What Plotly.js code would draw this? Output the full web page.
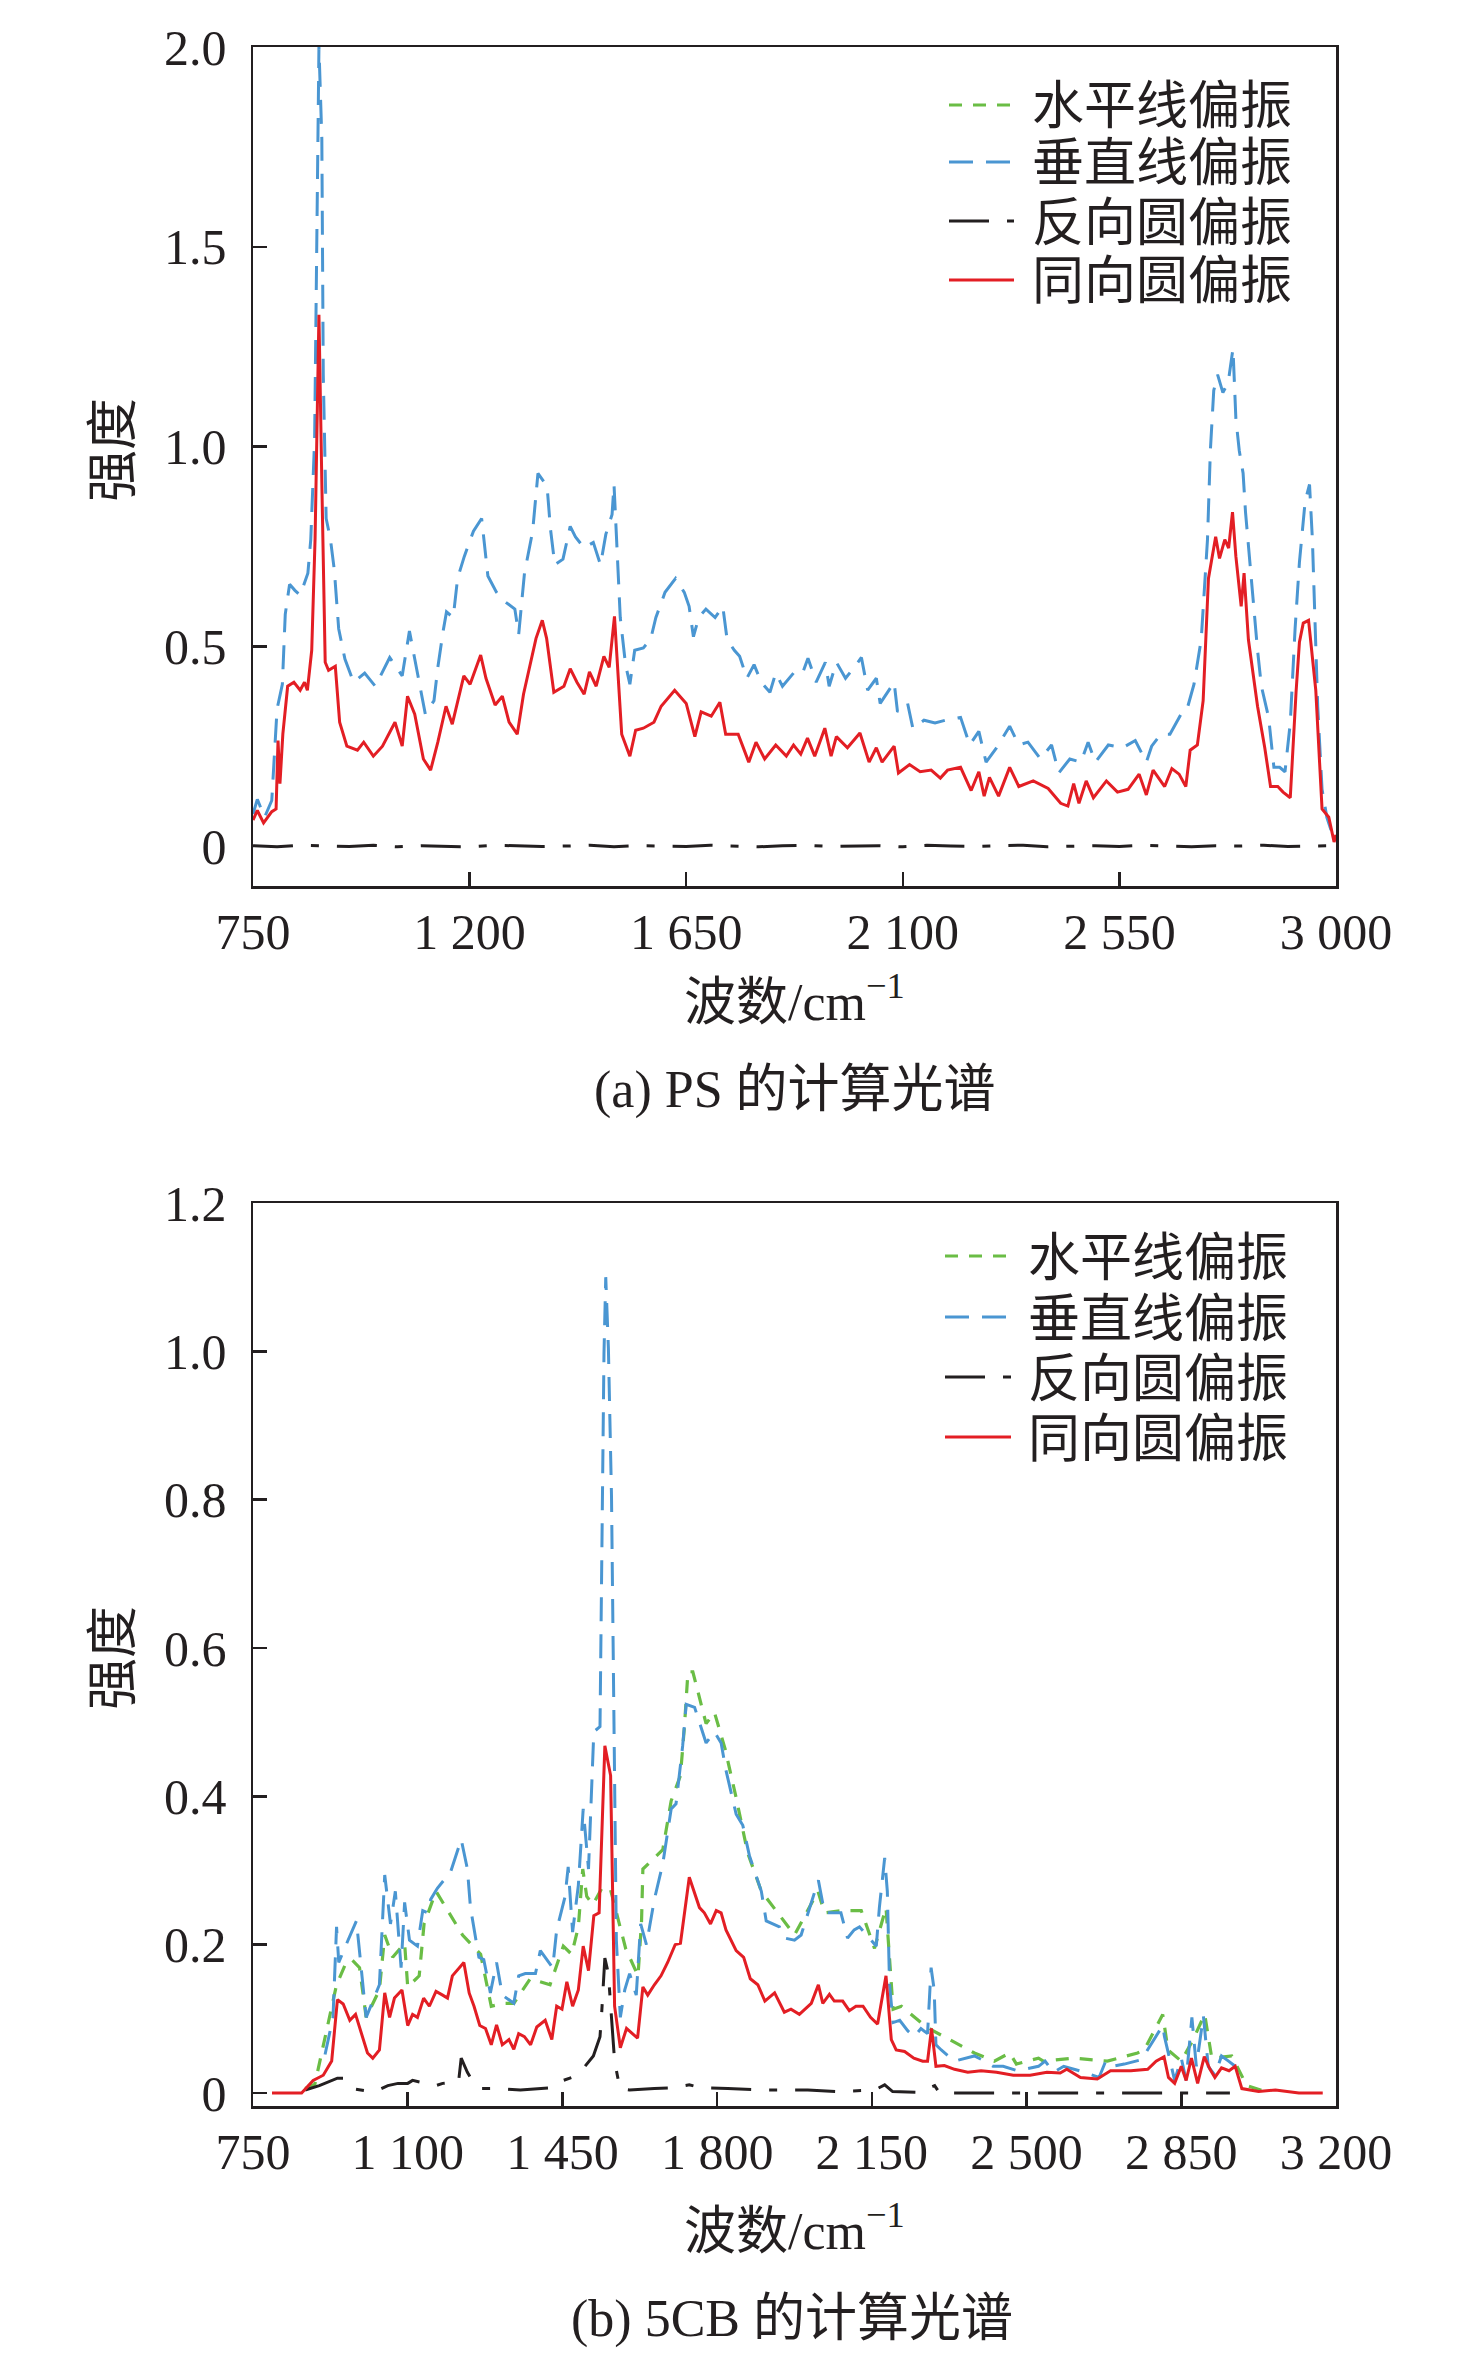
<!DOCTYPE html>
<html>
<head>
<meta charset="utf-8">
<script src="https://cdn.plot.ly/plotly-3.0.1.min.js"></script>
<style>
  html, body { margin: 0; padding: 0; background: #fff; }
  #chart { width: 1476px; height: 2362px; }
</style>
</head>
<body>
<div id="chart"></div>
<script>
// ---- (a) PS ----
var psXTicks = [750, 1200, 1650, 2100, 2550, 3000];
var psXText = ['750', '1 200', '1 650', '2 100', '2 550', '3 000'];
var psYTicks = [0, 0.5, 1.0, 1.5, 2.0];
var psYText = ['0', '0.5', '1.0', '1.5', '2.0'];

// the horizontal-polarisation curve of (a) is not visible in the figure, only its legend entry

var psVerX = [750,759,774,789,800,811,817,826,837,848,864,870,878,882,887,893,896,902,911,919,928,941,959,982,1004,1034,1060,1075,1093,1108,1126,1134,1145,1152,1166,1175,1189,1208,1225,1238,1256,1271,1294,1302,1314,1331,1342,1361,1368,1377,1394,1409,1420,1438,1457,1472,1483,1496,1500,1508,1513,1524,1533,1543,1561,1576,1587,1606,1628,1646,1656,1665,1676,1691,1710,1726,1735,1750,1761,1776,1791,1806,1824,1836,1850,1873,1891,1903,1920,1939,1947,1962,1981,1999,2014,2027,2045,2053,2082,2089,2110,2121,2144,2167,2189,2220,2239,2258,2273,2295,2322,2341,2360,2386,2409,2424,2447,2470,2485,2500,2527,2557,2583,2606,2617,2636,2655,2678,2689,2705,2720,2733,2739,2746,2754,2765,2776,2786,2792,2799,2807,2812,2818,2826,2837,2845,2860,2871,2883,2894,2905,2915,2924,2936,2945,2951,2956,2962,2971,2981,2996];
var psVerY = [0.08,0.117,0.072,0.114,0.343,0.405,0.58,0.655,0.64,0.628,0.683,0.767,1.017,1.46,2.0,1.77,1.18,0.82,0.767,0.69,0.544,0.468,0.41,0.433,0.40,0.472,0.426,0.538,0.42,0.33,0.364,0.447,0.538,0.586,0.572,0.67,0.725,0.788,0.82,0.676,0.635,0.614,0.593,0.53,0.683,0.788,0.933,0.90,0.794,0.704,0.718,0.80,0.774,0.746,0.76,0.704,0.78,0.83,0.905,0.71,0.572,0.454,0.405,0.49,0.496,0.517,0.572,0.635,0.67,0.635,0.60,0.524,0.572,0.593,0.572,0.60,0.517,0.49,0.475,0.42,0.454,0.41,0.385,0.433,0.40,0.433,0.43,0.47,0.41,0.46,0.40,0.46,0.42,0.447,0.472,0.39,0.42,0.357,0.41,0.336,0.357,0.294,0.315,0.308,0.315,0.322,0.253,0.287,0.21,0.246,0.30,0.253,0.26,0.218,0.253,0.183,0.218,0.21,0.26,0.21,0.253,0.246,0.264,0.21,0.25,0.28,0.28,0.33,0.336,0.405,0.517,0.767,0.99,1.14,1.18,1.135,1.16,1.245,1.07,0.99,0.933,0.836,0.75,0.628,0.49,0.40,0.322,0.197,0.197,0.186,0.308,0.544,0.71,0.864,0.905,0.767,0.558,0.35,0.142,0.072,0.017];

var psRevX = [750,800,850,900,950,1000,1050,1100,1150,1200,1250,1300,1350,1400,1450,1500,1550,1600,1650,1700,1750,1800,1850,1900,1950,2000,2050,2100,2150,2200,2250,2300,2350,2400,2450,2500,2550,2600,2650,2700,2750,2800,2850,2900,2950,3000];
var psRevY = [0.001,-0.002,0.002,0.000,-0.001,0.002,-0.002,0.001,0.000,-0.002,0.002,0.001,-0.001,0.000,0.002,-0.002,0.001,0.000,-0.001,0.002,0.000,-0.002,0.001,0.002,-0.001,0.000,0.001,-0.002,0.002,0.000,-0.001,0.001,0.002,-0.002,0.000,0.001,-0.001,0.002,0.000,-0.002,0.001,0.000,0.002,-0.001,0.000,0.001];

var psCoX = [750,759,772,789,798,802,806,812,822,835,848,857,863,872,879,887,893,900,907,921,930,945,967,980,1000,1019,1045,1060,1071,1086,1104,1119,1134,1151,1164,1188,1201,1223,1234,1253,1268,1282,1299,1312,1338,1351,1360,1375,1396,1409,1423,1438,1449,1463,1479,1490,1501,1516,1533,1545,1561,1583,1598,1626,1650,1668,1681,1702,1720,1732,1758,1780,1795,1813,1836,1858,1873,1888,1902,1917,1938,1951,1962,1985,2011,2030,2045,2057,2082,2091,2114,2136,2159,2178,2193,2220,2242,2258,2269,2280,2299,2322,2341,2371,2402,2428,2443,2455,2466,2481,2496,2523,2546,2568,2591,2606,2620,2644,2659,2674,2688,2697,2712,2724,2735,2750,2758,2769,2777,2785,2792,2803,2809,2818,2837,2852,2864,2879,2890,2905,2917,2924,2932,2943,2958,2971,2985,2996,3000];
var psCoY = [0.065,0.089,0.058,0.086,0.093,0.264,0.156,0.28,0.40,0.41,0.39,0.41,0.39,0.49,0.77,1.33,0.91,0.46,0.44,0.45,0.31,0.25,0.24,0.26,0.225,0.25,0.31,0.25,0.375,0.33,0.218,0.19,0.26,0.35,0.305,0.426,0.405,0.478,0.42,0.353,0.375,0.31,0.28,0.38,0.52,0.565,0.52,0.385,0.40,0.444,0.41,0.38,0.436,0.40,0.475,0.447,0.575,0.28,0.225,0.29,0.295,0.31,0.35,0.39,0.357,0.274,0.336,0.325,0.36,0.28,0.28,0.21,0.26,0.218,0.253,0.225,0.253,0.23,0.27,0.225,0.295,0.225,0.274,0.246,0.283,0.21,0.246,0.21,0.25,0.183,0.204,0.186,0.19,0.17,0.19,0.197,0.139,0.186,0.125,0.172,0.125,0.197,0.149,0.163,0.144,0.107,0.10,0.156,0.107,0.163,0.121,0.163,0.135,0.142,0.18,0.128,0.19,0.149,0.194,0.18,0.149,0.24,0.253,0.364,0.67,0.774,0.72,0.767,0.746,0.836,0.725,0.60,0.683,0.517,0.35,0.246,0.149,0.149,0.135,0.121,0.385,0.51,0.558,0.565,0.39,0.093,0.072,0.01,0.028];

// ---- (b) 5CB ----
var cbXTicks = [750, 1100, 1450, 1800, 2150, 2500, 2850, 3200];
var cbXText = ['750', '1 100', '1 450', '1 800', '2 150', '2 500', '2 850', '3 200'];
var cbYTicks = [0, 0.2, 0.4, 0.6, 0.8, 1.0, 1.2];
var cbYText = ['0', '0.2', '0.4', '0.6', '0.8', '1.0', '1.2'];

var cbHorX = [868,890,939,960,973,991,1006,1036,1048,1066,1093,1100,1126,1137,1164,1197,1224,1265,1289,1317,1340,1377,1422,1452,1471,1486,1496,1505,1519,1539,1558,1593,1621,1629,1632,1677,1696,1717,1726,1734,1745,1775,1794,1818,1843,1869,1900,1937,1975,2028,2043,2084,2126,2156,2182,2198,2217,2261,2288,2326,2382,2427,2462,2477,2527,2538,2606,2683,2751,2766,2808,2820,2850,2875,2903,2919,2964,2998,3040];
var cbHorY = [0.006,0.012,0.146,0.175,0.18,0.169,0.102,0.139,0.213,0.183,0.202,0.143,0.158,0.228,0.272,0.239,0.213,0.187,0.117,0.121,0.121,0.154,0.146,0.198,0.187,0.224,0.302,0.265,0.254,0.276,0.276,0.195,0.158,0.232,0.302,0.328,0.394,0.428,0.494,0.568,0.568,0.498,0.513,0.464,0.398,0.324,0.272,0.243,0.213,0.272,0.243,0.246,0.246,0.195,0.25,0.113,0.117,0.095,0.084,0.072,0.054,0.043,0.054,0.039,0.047,0.043,0.047,0.043,0.054,0.058,0.106,0.058,0.043,0.07,0.106,0.047,0.05,0.01,0.002];

var cbVerX = [913,931,939,944,965,984,1006,1036,1048,1061,1072,1085,1093,1104,1122,1134,1145,1152,1167,1197,1221,1235,1242,1261,1272,1287,1301,1314,1340,1351,1366,1389,1400,1415,1428,1437,1456,1463,1473,1486,1497,1509,1516,1521,1535,1539,1544,1548,1554,1561,1565,1568,1572,1581,1591,1602,1617,1627,1640,1658,1677,1696,1707,1722,1730,1749,1775,1794,1809,1820,1843,1858,1873,1900,1911,1941,1952,1975,1990,2029,2043,2080,2095,2110,2122,2160,2167,2179,2185,2190,2198,2213,2231,2246,2261,2276,2284,2291,2295,2307,2337,2382,2405,2424,2447,2480,2527,2542,2561,2584,2620,2664,2679,2694,2721,2760,2789,2808,2812,2835,2850,2861,2874,2884,2900,2911,2926,2941,2957,2972];
var cbVerY = [0.052,0.102,0.224,0.176,0.206,0.232,0.102,0.146,0.294,0.228,0.272,0.169,0.257,0.206,0.198,0.246,0.243,0.261,0.276,0.298,0.342,0.302,0.25,0.183,0.18,0.135,0.176,0.132,0.121,0.158,0.161,0.161,0.192,0.18,0.169,0.22,0.265,0.305,0.217,0.28,0.383,0.302,0.42,0.487,0.494,0.709,0.997,1.10,1.004,0.805,0.59,0.354,0.206,0.102,0.139,0.161,0.132,0.228,0.20,0.261,0.309,0.383,0.39,0.468,0.524,0.52,0.472,0.487,0.472,0.435,0.376,0.361,0.32,0.272,0.232,0.224,0.209,0.206,0.213,0.287,0.243,0.243,0.209,0.22,0.224,0.198,0.25,0.317,0.272,0.146,0.095,0.098,0.084,0.076,0.087,0.08,0.169,0.139,0.065,0.058,0.043,0.05,0.043,0.036,0.036,0.03,0.036,0.043,0.028,0.036,0.03,0.021,0.043,0.036,0.039,0.045,0.072,0.091,0.076,0.017,0.047,0.017,0.102,0.036,0.104,0.036,0.024,0.05,0.043,0.036];

var cbRevX = [868,900,941,954,973,1014,1033,1055,1078,1100,1111,1164,1179,1215,1221,1235,1250,1265,1295,1355,1426,1452,1471,1501,1520,1535,1539,1546,1554,1561,1568,1580,1602,1658,1696,1737,1764,1824,1907,2005,2073,2156,2179,2197,2254,2292,2303,2443,2600,2800,2960];
var cbRevY = [0.004,0.01,0.02,0.02,0.006,0.002,0.004,0.01,0.013,0.013,0.017,0.01,0.013,0.015,0.047,0.028,0.013,0.006,0.006,0.004,0.007,0.017,0.021,0.036,0.05,0.076,0.11,0.182,0.161,0.102,0.043,0.006,0.004,0.006,0.007,0.011,0.007,0.006,0.004,0.004,0.002,0.004,0.011,0.002,0.001,0.01,0,0,0,0,0];

var cbCoX = [793,860,886,909,928,941,954,969,982,994,1009,1021,1036,1048,1059,1070,1087,1100,1111,1122,1136,1149,1164,1179,1190,1201,1216,1227,1239,1250,1263,1276,1289,1301,1314,1329,1340,1351,1364,1378,1392,1411,1426,1437,1449,1460,1473,1486,1497,1509,1521,1533,1546,1559,1568,1581,1595,1620,1632,1643,1658,1673,1688,1705,1717,1737,1760,1771,1785,1798,1809,1820,1843,1860,1875,1892,1908,1930,1952,1967,1986,2013,2029,2039,2054,2065,2084,2099,2114,2130,2147,2163,2182,2194,2205,2224,2245,2265,2276,2285,2295,2314,2337,2367,2397,2432,2470,2508,2546,2576,2591,2622,2660,2690,2736,2774,2793,2811,2821,2835,2850,2861,2873,2887,2902,2915,2926,2941,2958,2972,2987,3025,3063,3116,3170];
var cbCoY = [0,0,0.017,0.024,0.043,0.126,0.12,0.098,0.106,0.084,0.054,0.047,0.058,0.135,0.102,0.128,0.139,0.091,0.106,0.102,0.128,0.117,0.137,0.132,0.128,0.158,0.169,0.176,0.135,0.117,0.091,0.087,0.065,0.092,0.065,0.072,0.059,0.08,0.076,0.065,0.089,0.098,0.072,0.117,0.113,0.15,0.117,0.139,0.198,0.165,0.239,0.243,0.468,0.428,0.117,0.061,0.087,0.074,0.143,0.132,0.146,0.158,0.176,0.20,0.202,0.291,0.25,0.243,0.228,0.246,0.243,0.22,0.192,0.183,0.154,0.146,0.124,0.135,0.109,0.113,0.106,0.121,0.146,0.121,0.133,0.124,0.124,0.111,0.117,0.117,0.102,0.093,0.158,0.072,0.058,0.056,0.047,0.043,0.043,0.087,0.036,0.037,0.032,0.028,0.03,0.028,0.024,0.024,0.028,0.027,0.032,0.021,0.019,0.03,0.03,0.032,0.043,0.049,0.021,0.013,0.036,0.017,0.047,0.013,0.049,0.032,0.021,0.034,0.03,0.036,0.006,0.002,0.004,0,0];

var names = ['水平线偏振', '垂直线偏振', '反向圆偏振', '同向圆偏振'];
var colors = ['#6abd45', '#4a96d2', '#231f20', '#e31e24'];
var dashes = ['13px,11px', '24px,13px', '40px,18px,8px,18px', 'solid'];
var widths = [3.2, 3, 3, 3];

var FONT = 'Liberation Serif, "Noto Sans CJK SC", serif';
var INK = '#231f20';
var W = 1476, H = 2362;

function series(i, x, y, xa, ya) {
  return {
    x: x, y: y, name: names[i], type: 'scatter', mode: 'lines',
    xaxis: xa, yaxis: ya, showlegend: false,
    line: {color: colors[i], width: widths[i], dash: dashes[i]},
    hoverinfo: 'skip'
  };
}

var data = [
  series(1, psVerX, psVerY, 'x', 'y'),
  series(2, psRevX, psRevY, 'x', 'y'),
  series(3, psCoX, psCoY, 'x', 'y'),
  series(0, cbHorX, cbHorY, 'x2', 'y2'),
  series(1, cbVerX, cbVerY, 'x2', 'y2'),
  series(2, cbRevX, cbRevY, 'x2', 'y2'),
  series(3, cbCoX, cbCoY, 'x2', 'y2')
];

function xAxis(range, vals, text, anchor) {
  return {
    domain: [253 / W, 1336 / W], anchor: anchor, range: range,
    tickmode: 'array', tickvals: vals, ticktext: text,
    ticks: 'inside', ticklen: 14, tickwidth: 2.5, tickcolor: INK,
    showline: true, mirror: true, linewidth: 2.5, linecolor: INK,
    showgrid: false, zeroline: false, ticklabelstandoff: 0,
    tickfont: {family: FONT, size: 50, color: INK}
  };
}

function yAxis(range, vals, text, anchor, top, bottom) {
  return {
    domain: [1 - bottom / H, 1 - top / H], anchor: anchor, range: range,
    tickmode: 'array', tickvals: vals, ticktext: text,
    ticks: 'inside', ticklen: 14, tickwidth: 2.5, tickcolor: INK,
    showline: true, mirror: true, linewidth: 2.5, linecolor: INK,
    showgrid: false, zeroline: false, ticklabelstandoff: 14,
    tickfont: {family: FONT, size: 50, color: INK}
  };
}

var shapes = [];
var annotations = [];

function text(str, x, y, size, angle) {
  annotations.push({text: str, xref: 'paper', yref: 'paper', x: x / W, y: 1 - y / H,
    xanchor: 'center', yanchor: 'middle', showarrow: false, textangle: angle || 0,
    font: {family: FONT, size: size, color: INK}});
}

// legend: line sample + label for every series
function legend(rows, x0, x1, tx) {
  for (var i = 0; i < names.length; i++) {
    shapes.push({type: 'line', xref: 'paper', yref: 'paper',
      x0: x0 / W, x1: x1 / W, y0: 1 - rows[i] / H, y1: 1 - rows[i] / H,
      line: {color: colors[i], width: widths[i], dash: dashes[i]}});
    annotations.push({text: names[i], xref: 'paper', yref: 'paper',
      x: tx / W, y: 1 - (rows[i] - 3) / H, xanchor: 'left', yanchor: 'middle', showarrow: false,
      font: {family: '"Noto Sans CJK SC", sans-serif', size: 52, color: INK}});
  }
}

legend([105, 162, 221, 280], 949, 1014, 1030);
legend([1256, 1317, 1377, 1437], 945, 1011, 1026);

text('强度', 113, 450, 52, -90);
text('强度', 113, 1658, 52, -90);
text('波数/cm<sup>−1</sup>', 795, 998, 52);
text('波数/cm<sup>−1</sup>', 795, 2227, 52);
text('(a) PS 的计算光谱', 795, 1090, 52);
text('(b) 5CB 的计算光谱', 792, 2319, 52);

var layout = {
  width: W, height: H,
  margin: {l: 0, r: 0, t: 0, b: 0},
  paper_bgcolor: '#fff', plot_bgcolor: '#fff',
  showlegend: false,
  xaxis: xAxis([750, 3000], psXTicks, psXText, 'y'),
  yaxis: yAxis([-0.1, 2.0], psYTicks, psYText, 'x', 47, 886),
  xaxis2: xAxis([750, 3200], cbXTicks, cbXText, 'y2'),
  yaxis2: yAxis([-0.0175, 1.2], cbYTicks, cbYText, 'x2', 1203, 2106),
  shapes: shapes,
  annotations: annotations
};

Plotly.newPlot('chart', data, layout, {staticPlot: true});
</script>
</body>
</html>
